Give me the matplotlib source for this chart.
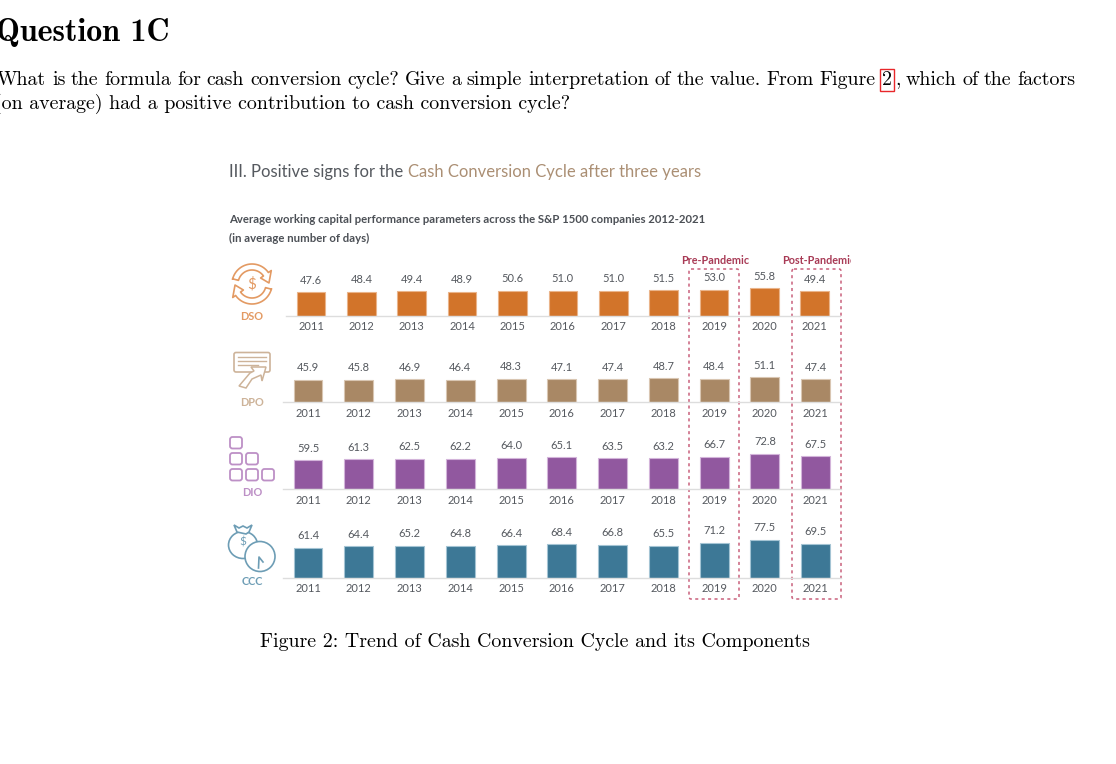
import numpy as np
import matplotlib
matplotlib.use("Agg")
import matplotlib.pyplot as plt
from matplotlib.patches import Circle, Ellipse, FancyBboxPatch, Rectangle
from matplotlib.transforms import Bbox

W, H = 1116, 764
PX_PER_UNIT = 0.49
YMAX = 100

years = ["2011", "2012", "2013", "2014", "2015", "2016", "2017", "2018", "2019", "2020", "2021"]
dso = [47.6, 48.4, 49.4, 48.9, 50.6, 51.0, 51.0, 51.5, 53.0, 55.8, 49.4]
dpo = [45.9, 45.8, 46.9, 46.4, 48.3, 47.1, 47.4, 48.7, 48.4, 51.1, 47.4]
dio = [59.5, 61.3, 62.5, 62.2, 64.0, 65.1, 63.5, 63.2, 66.7, 72.8, 67.5]
ccc = [61.4, 64.4, 65.2, 64.8, 66.4, 68.4, 66.8, 65.5, 71.2, 77.5, 69.5]

SANS = "Lato"
GREY = "#55595f"
RED = "#a83a55"
RED_BOX = "#c9607c"
ORANGE, ORANGE_ICON = "#d2742a", "#e39a63"
BROWN, BROWN_ICON = "#a98865", "#cdb399"
PURPLE, PURPLE_ICON = "#91589f", "#bd90c6"
TEAL, TEAL_ICON = "#3d7896", "#6d9db5"

fig = plt.figure(figsize=(W / 100, H / 100), dpi=100)
page = fig.add_axes([0, 0, 1, 1])
page.set_xlim(0, W)
page.set_ylim(H, 0)
page.axis("off")


def add_panel(values, color, edge, left, right, base):
    top = base - YMAX * PX_PER_UNIT
    ax = fig.add_axes([left / W, 1 - base / H, (right - left) / W, (base - top) / H])
    ax.patch.set_alpha(0)
    x = np.arange(len(values))
    ax.bar(x, values, width=0.57, color=color, edgecolor=edge, linewidth=0.8)
    ax.set_xlim(-0.5, len(values) - 0.5)
    ax.set_ylim(0, YMAX)
    ax.set_yticks([])
    ax.set_xticks(x, years)
    ax.tick_params(axis="x", length=0, pad=4.0, labelsize=8, labelcolor=GREY)
    for lab in ax.get_xticklabels():
        lab.set_family(SANS)
    for side in ["top", "left", "right"]:
        ax.spines[side].set_visible(False)
    ax.spines["bottom"].set_color("#dddddd")
    ax.spines["bottom"].set_linewidth(1)
    for i, v in enumerate(values):
        ax.annotate(f"{v:.1f}", (i, v), xytext=(0, 12), textcoords="offset pixels",
                    ha="center", va="center", fontsize=8, color=GREY, family=SANS)
    return ax


add_panel(dso, ORANGE, "#eab48a", 285.8, 840, 315.7)
add_panel(dpo, BROWN, "#d9c6b2", 282.6, 841, 402.3)
add_panel(dio, PURPLE, "#d3b4da", 282.6, 841, 489.3)
add_panel(ccc, TEAL, "#a4c4d4", 282.6, 841, 577.7)


def justified(words, x0, x1, y):
    # the first line is set tight by TeX, so spread the words between two x values
    rend = fig.canvas.get_renderer()
    items = [page.text(x0, y, w, family="cmr10", fontsize=14.35, va="baseline") for w in words]
    widths = [t.get_window_extent(rend).width for t in items]
    gap = (x1 - x0 - sum(widths)) / (len(words) - 1)
    x = x0
    for t, w in zip(items, widths):
        t.set_x(x)
        x += w + gap


# page text
page.text(-4, 41, "Question 1C", family="cmb10", fontsize=23, color="black", va="baseline")
justified("What is the formula for cash conversion cycle? Give a simple interpretation of the value. "
          "From Figure".split(), -3, 876, 85)
page.text(882, 85, "2", family="cmr10", fontsize=14.35, va="baseline")
justified(", which of the factors".split(" "), 895, 1075, 85)
page.text(-5.5, 109, "(on average) had a positive contribution to cash conversion cycle?",
          family="cmr10", fontsize=14.35, va="baseline")
page.text(260, 647, "Figure 2: Trend of Cash Conversion Cycle and its Components",
          family="cmr10", fontsize=14.35, va="baseline")
page.add_patch(Rectangle((880, 69), 13.5, 22, fill=False, edgecolor="#e8272a", linewidth=1))

# chart header
t1 = page.text(229, 177, "III. Positive signs for the ", family=SANS, fontsize=12, color=GREY, va="baseline")
page.annotate("Cash Conversion Cycle after three years", xy=(1, 0), xycoords=t1, family=SANS,
              fontsize=12, color="#ab8f74", va="bottom")
page.text(229, 223, "Average working capital performance parameters across the S&P 1500 companies 2012-2021",
          family=SANS, fontsize=8.2, weight="bold", color="#4c5056", va="baseline")
page.text(229, 242, "(in average number of days)", family=SANS, fontsize=8.2, weight="bold",
          color="#4c5056", va="baseline")

# pandemic boxes
for x0, x1 in [(689, 739), (792, 841)]:
    page.add_patch(FancyBboxPatch((x0, 269), x1 - x0, 330, boxstyle="round,pad=0,rounding_size=2",
                                  fill=False, edgecolor=RED_BOX, linewidth=1.1, linestyle=(0, (2, 2.2))))
page.text(715, 261, "Pre-Pandemic", family=SANS, fontsize=7.75, weight="bold", color=RED,
          ha="center", va="center")
post = page.text(782.5, 261, "Post-Pandemic", family=SANS, fontsize=7.75, weight="bold", color=RED,
                 ha="left", va="center")
post.set_clip_on(True)
post.set_clip_box(Bbox([[0, 0], [851, H]]))

# row labels
for label, y, col in [("DSO", 316.5, ORANGE_ICON), ("DPO", 402, BROWN_ICON),
                      ("DIO", 492, PURPLE_ICON), ("CCC", 581.5, TEAL_ICON)]:
    page.text(252, y, label, family=SANS, fontsize=7.8, weight="bold", color=col, ha="center", va="center")


# icons
def band_arrow(cx, cy, sign, color):
    t = np.radians(np.linspace(165, 35, 30))
    a, b = 20, 14
    xo, yo = a * np.cos(t), -a * np.sin(t)
    xi, yi = b * np.cos(t), -b * np.sin(t)
    ang = t[-1]
    head_out = 23.5 * np.cos(ang), -23.5 * np.sin(ang)
    head_in = 10.5 * np.cos(ang), -10.5 * np.sin(ang)
    tip = 17 * np.cos(ang - 0.55), -17 * np.sin(ang - 0.55)
    xs = np.r_[xo, head_out[0], tip[0], head_in[0], xi[::-1], xo[0]]
    ys = np.r_[yo, head_out[1], tip[1], head_in[1], yi[::-1], yo[0]]
    page.plot(cx + sign * xs, cy + sign * ys, color=color, linewidth=1.2, solid_joinstyle="round")


band_arrow(252, 284, 1, ORANGE_ICON)
band_arrow(252, 284, -1, ORANGE_ICON)
page.text(252, 284, "$", family=SANS, fontsize=11, color=ORANGE_ICON, ha="center", va="center")

page.add_patch(FancyBboxPatch((234, 352.5), 36, 19.5, boxstyle="round,pad=0,rounding_size=2",
                              fill=False, edgecolor=BROWN_ICON, linewidth=1.2))
for yy, x1 in [(357, 266), (361, 266), (365, 258)]:
    page.plot([238, x1], [yy, yy], color=BROWN_ICON, linewidth=1)
page.fill([239, 250, 254, 251, 266, 262, 261, 252, 246],
          [386, 373, 371, 367, 367, 381, 375, 379, 388], facecolor="white", edgecolor=BROWN_ICON, linewidth=1.1)

for bx, by in [(230, 437), (230, 453), (246, 453), (230, 469), (246, 469), (262, 469)]:
    page.add_patch(FancyBboxPatch((bx, by), 12, 11.5, boxstyle="round,pad=0,rounding_size=2.5",
                                  fill=False, edgecolor=PURPLE_ICON, linewidth=1.3))

page.add_patch(Ellipse((243, 545), 29, 27, facecolor="white", edgecolor=TEAL_ICON, linewidth=1.2))
page.fill([237, 234, 239, 243, 247, 252, 249, 246], [532, 525, 528, 526, 528, 525, 532, 534],
          facecolor="white", edgecolor=TEAL_ICON, linewidth=1.2)
page.text(243, 542, "$", family=SANS, fontsize=8.5, color=TEAL_ICON, ha="center", va="center")
page.add_patch(Circle((260, 556.5), 15, facecolor="white", edgecolor=TEAL_ICON, linewidth=1.2))
page.plot([258.5, 259, 263], [568, 557, 562], color=TEAL_ICON, linewidth=1.2)

fig.savefig("out.png", dpi=100)
